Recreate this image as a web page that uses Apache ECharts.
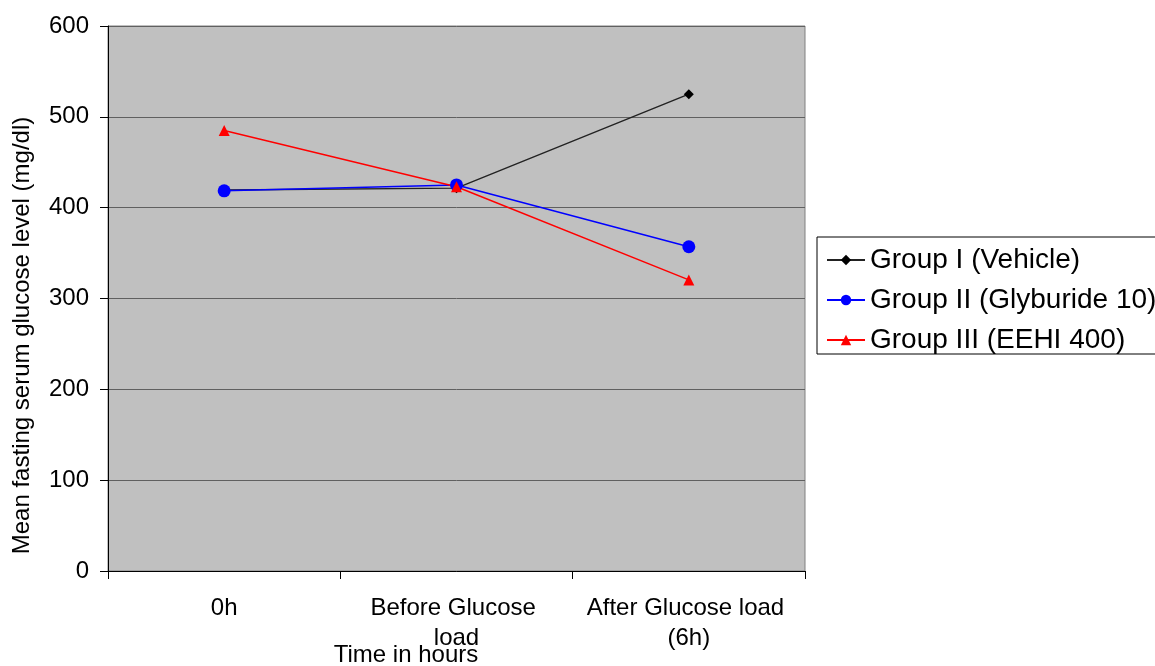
<!DOCTYPE html>
<html>
<head>
<meta charset="utf-8">
<script src="https://cdn.jsdelivr.net/npm/echarts@6/dist/echarts.min.js"></script>
<style>
html,body{margin:0;padding:0;background:#fff;}
#chart{width:1155px;height:666px;}
</style>
</head>
<body>
<div id="chart"></div>
<script>
const categories = ['0h', 'Before Glucose load', 'After Glucose load (6h)'];
const groupI = [419.5, 421.5, 525];
const groupII = [418.5, 425, 357];
const groupIII = [485, 423, 320.5];
const seriesNames = ['Group I (Vehicle)', 'Group II (Glyburide 10)', 'Group III (EEHI 400)'];
const yTicks = { min: 0, max: 600, interval: 100 };
const xAxisTitle = 'Time in hours';

const FONT = '"Liberation Sans", Arial, sans-serif';
const chart = echarts.init(document.getElementById('chart'), null, { renderer: 'canvas' });
chart.setOption({
  animation: false,
  backgroundColor: '#ffffff',
  grid: {
    left: 108, top: 26, right: 350, bottom: 95,
    containLabel: false,
    outerBoundsMode: 'none',
    show: true, backgroundColor: '#C0C0C0', borderColor: '#808080', borderWidth: 1
  },
  graphic: [{
    type: 'text',
    x: 406, y: 655,
    style: {
      text: xAxisTitle,
      font: '24px ' + FONT,
      fill: '#000',
      textAlign: 'center',
      textVerticalAlign: 'middle'
    }
  }],
  legend: {
    orient: 'vertical',
    left: 817, top: 237,
    padding: [9, 60, 0, 9],
    itemGap: 12,
    itemWidth: 38,
    itemHeight: 13,
    backgroundColor: '#ffffff',
    borderColor: '#000000',
    borderWidth: 1,
    borderRadius: 0,
    textStyle: { fontFamily: FONT, fontSize: 28, color: '#000' },
    data: seriesNames
  },
  xAxis: {
    type: 'category',
    data: categories,
    boundaryGap: true,
    axisLine: { show: true, lineStyle: { color: '#000', width: 1 } },
    axisTick: { show: true, length: 8, alignWithLabel: false, lineStyle: { color: '#000' } },
    axisLabel: {
      fontFamily: FONT, fontSize: 24, color: '#000', margin: 22,
      lineHeight: 30, width: 215, overflow: 'break', interval: 0
    },
    splitLine: { show: false }
  },
  yAxis: {
    type: 'value',
    min: yTicks.min, max: yTicks.max, interval: yTicks.interval,
    name: 'Mean fasting serum glucose level (mg/dl)',
    nameLocation: 'middle',
    nameGap: 74,
    nameRotate: 90,
    nameTextStyle: { fontFamily: FONT, fontSize: 24, color: '#000', padding: [0, 74, 0, 0] },
    axisLine: { show: true, lineStyle: { color: '#000', width: 1 } },
    axisTick: { show: true, length: 8, inside: false, lineStyle: { color: '#000' } },
    axisLabel: { fontFamily: FONT, fontSize: 24, color: '#000', margin: 19 },
    splitLine: { show: true, lineStyle: { color: '#606060', width: 1 } }
  },
  series: [
    {
      name: seriesNames[0], type: 'line', data: groupI,
      symbol: 'diamond', symbolSize: 10, showAllSymbol: true,
      lineStyle: { color: '#222222', width: 1.4 },
      itemStyle: { color: '#000000' }
    },
    {
      name: seriesNames[1], type: 'line', data: groupII,
      symbol: 'circle', symbolSize: 13, showAllSymbol: true,
      lineStyle: { color: '#0000FF', width: 1.5 },
      itemStyle: { color: '#0000FF' }
    },
    {
      name: seriesNames[2], type: 'line', data: groupIII,
      symbol: 'triangle', symbolSize: 11, showAllSymbol: true,
      lineStyle: { color: '#FF0000', width: 1.5 },
      itemStyle: { color: '#FF0000' }
    }
  ]
});
</script>
</body>
</html>
